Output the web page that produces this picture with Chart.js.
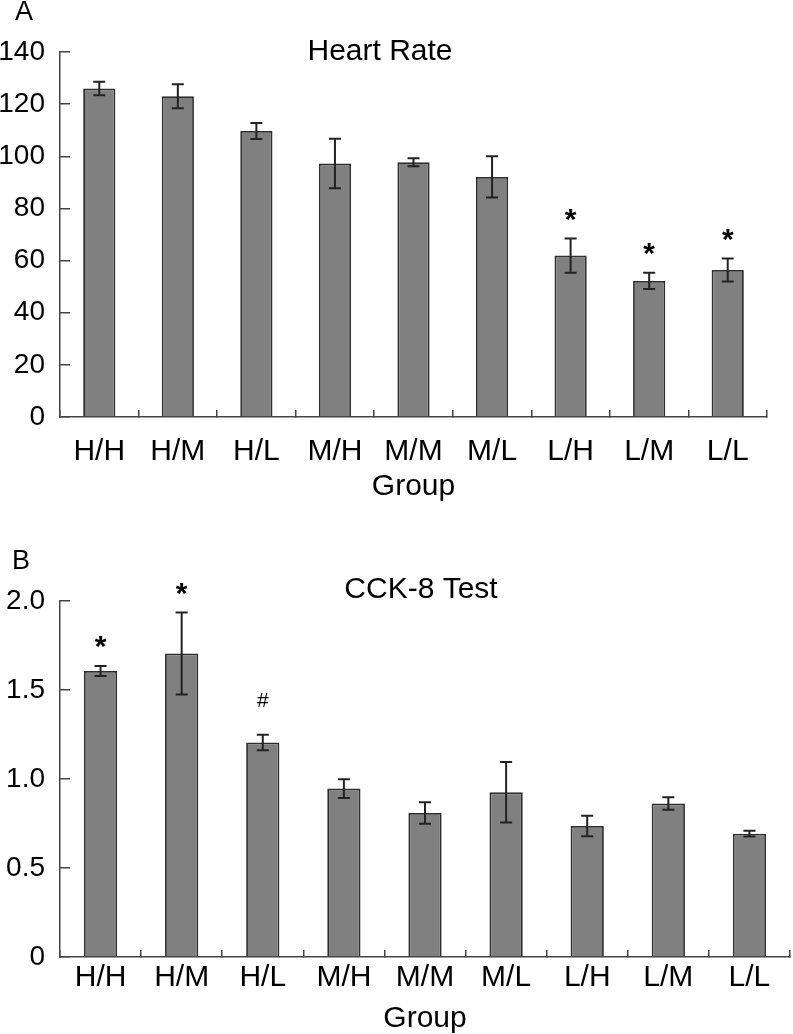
<!DOCTYPE html>
<html>
<head>
<meta charset="utf-8">
<script src="https://cdn.jsdelivr.net/npm/chart.js@4.4.1/dist/chart.umd.min.js"></script>
<style>
  html, body { margin: 0; padding: 0; background: #fff; }
  #wrap { position: relative; width: 793px; height: 1034px; }
  canvas { position: absolute; left: 0; }
  #chartA { top: 0; }
  #chartB { top: 517px; }
</style>
</head>
<body>
<div id="wrap">
  <canvas id="chartA" width="793" height="517"></canvas>
  <canvas id="chartB" width="793" height="517"></canvas>
</div>
<script>
// groups (x axis)
const groups = ['H/H', 'H/M', 'H/L', 'M/H', 'M/M', 'M/L', 'L/H', 'L/M', 'L/L'];

// panel A - heart rate
const heartRate = [126.0, 123.0, 109.7, 97.2, 97.7, 92.1, 61.9, 52.2, 56.4];
const heartRateErr = [2.6, 4.6, 3.1, 9.5, 1.5, 7.9, 6.6, 3.1, 4.4];
const heartRateSig = ['', '', '', '', '', '', '*', '*', '*'];
const heartRateTicks = [0, 20, 40, 60, 80, 100, 120, 140];

// panel B - CCK-8
const cck8 = [1.607, 1.705, 1.205, 0.946, 0.809, 0.925, 0.736, 0.862, 0.693];
const cck8Err = [0.028, 0.23, 0.043, 0.053, 0.06, 0.17, 0.058, 0.035, 0.016];
const cck8Sig = ['*', '*', '#', '', '', '', '', '', ''];
const cck8Ticks = [0, 0.5, 1.0, 1.5, 2.0];

const FONT = '"Liberation Sans", Arial, Helvetica, sans-serif';

// error bars + significance marks
const errorBars = {
  id: 'errorBars',
  afterDatasetsDraw(chart, args, opts) {
    const ctx = chart.ctx;
    const x = chart.scales.x, y = chart.scales.y;
    const vals = chart.data.datasets[0].data;
    ctx.save();
    ctx.strokeStyle = '#222';
    ctx.lineWidth = 2;
    vals.forEach((v, i) => {
      const px = x.getPixelForValue(i);
      const top = y.getPixelForValue(v + opts.err[i]);
      const bot = y.getPixelForValue(v - opts.err[i]);
      ctx.beginPath();
      ctx.moveTo(px, top); ctx.lineTo(px, bot);
      ctx.moveTo(px - 6, top); ctx.lineTo(px + 6, top);
      ctx.moveTo(px - 6, bot); ctx.lineTo(px + 6, bot);
      ctx.stroke();
      const s = opts.sig[i];
      if (s) {
        ctx.fillStyle = '#000';
        ctx.textAlign = 'center';
        ctx.textBaseline = 'middle';
        if (s === '*') {
          ctx.font = 'bold 30px ' + FONT;
          ctx.fillText(s, px, top - 18);
        } else {
          ctx.font = '21px ' + FONT;
          ctx.fillText(s, px, top - 34);
        }
      }
    });
    ctx.restore();
  }
};

// panel letter and chart title
const panelText = {
  id: 'panelText',
  afterDraw(chart, args, opts) {
    const ctx = chart.ctx;
    ctx.save();
    ctx.fillStyle = '#000';
    ctx.textAlign = 'center';
    ctx.textBaseline = 'middle';
    ctx.font = '27px ' + FONT;
    ctx.fillText(opts.letter, opts.letterX, opts.letterY);
    ctx.font = '30px ' + FONT;
    ctx.fillText(opts.title, opts.titleX, opts.titleY);
    ctx.restore();
  }
};

function makeChart(id, values, err, sig, ticks, yMax, fmt, xHeight, pad, xPad, titlePad, text) {
  return new Chart(document.getElementById(id), {
    type: 'bar',
    data: {
      labels: groups,
      datasets: [{
        data: values,
        backgroundColor: '#808080',
        borderColor: '#2e2e2e',
        borderWidth: 1.8,
        borderSkipped: 'bottom',
        categoryPercentage: 1.0,
        barPercentage: 0.41
      }]
    },
    options: {
      responsive: false,
      animation: false,
      devicePixelRatio: 1,
      layout: { padding: pad },
      plugins: {
        legend: { display: false },
        tooltip: { enabled: false },
        errorBars: { err: err, sig: sig },
        panelText: text
      },
      scales: {
        x: {
          grid: { display: true, drawOnChartArea: false, drawTicks: true, tickLength: -7, color: '#444', lineWidth: 1.5 },
          border: { display: true, color: '#444', width: 1.5 },
          ticks: { color: '#000', font: { family: FONT, size: 30 }, padding: xPad, maxRotation: 0, autoSkip: false },
          title: { display: true, text: 'Group', color: '#000', font: { family: FONT, size: 30, lineHeight: 1.0 }, padding: { top: 0, bottom: titlePad } },
          afterFit(s) { s.height = xHeight; }
        },
        y: {
          min: 0, max: yMax,
          afterBuildTicks(s) { s.ticks = ticks.map(v => ({ value: v })); },
          grid: { display: true, drawOnChartArea: false, drawTicks: true, tickLength: -10, color: '#444', lineWidth: 1.5 },
          border: { display: true, color: '#444', width: 1.5 },
          ticks: { color: '#000', font: { family: FONT, size: 28 }, padding: 25, callback: fmt },
          afterFit(s) { s.width = 60; }
        }
      }
    },
    plugins: [errorBars, panelText]
  });
}

makeChart('chartA', heartRate, heartRateErr, heartRateSig, heartRateTicks, 140,
  v => String(v), 100, { top: 52, right: 26, left: 0, bottom: 0 }, 24, 15,
  { letter: 'A', letterX: 24, letterY: 13, title: 'Heart Rate', titleX: 380, titleY: 52 });

makeChart('chartB', cck8, cck8Err, cck8Sig, cck8Ticks, 2.0,
  v => (v === 0 ? '0' : v.toFixed(1)), 77, { top: 84, right: 3, left: 0, bottom: 0 }, 10, 0,
  { letter: 'B', letterX: 21, letterY: 45, title: 'CCK-8 Test', titleX: 421, titleY: 73 });
</script>
</body>
</html>
